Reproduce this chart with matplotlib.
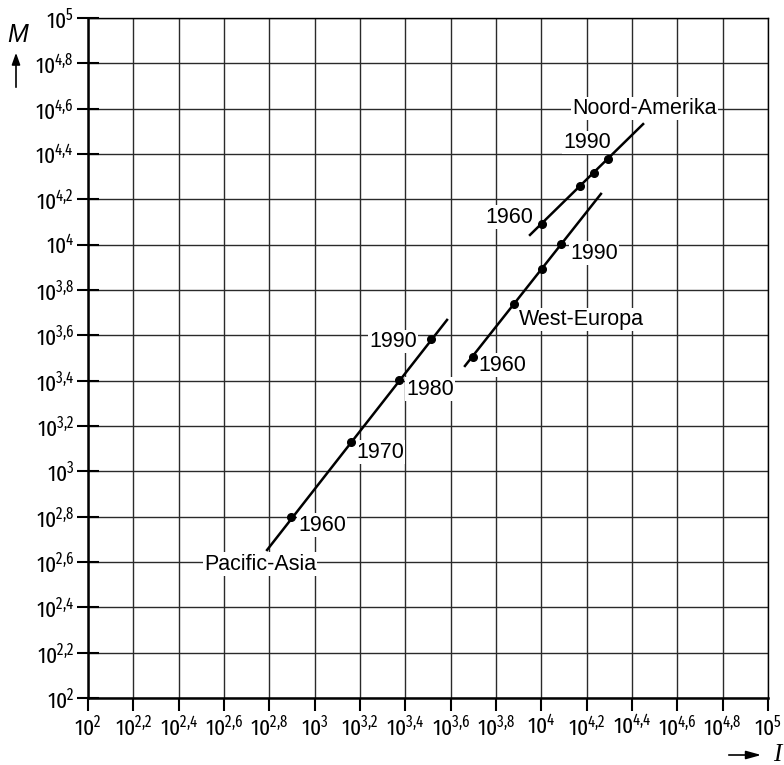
import matplotlib
matplotlib.use("Agg")
import matplotlib.pyplot as plt
import matplotlib.patches as mpatches

plt.rcParams['font.family'] = ['Liberation Sans', 'DejaVu Sans']
plt.rcParams['mathtext.fontset'] = 'custom'
plt.rcParams['mathtext.rm'] = 'Fira Sans Extra Condensed'
plt.rcParams['mathtext.it'] = 'Fira Sans Extra Condensed:italic'
plt.rcParams['mathtext.bf'] = 'Fira Sans Extra Condensed:bold'

# exponents (log10 of I and M)
pa_I = [2.896, 3.160, 3.372, 3.513]
pa_M = [2.799, 3.129, 3.403, 3.584]
pa_line_I = [2.790, 3.584]
pa_line_M = [2.653, 3.668]

we_I = [3.699, 3.879, 4.003, 4.087]
we_M = [3.504, 3.738, 3.893, 4.003]
we_line_I = [3.663, 4.263]
we_line_M = [3.465, 4.224]

na_I = [4.003, 4.171, 4.232, 4.294]
na_M = [4.091, 4.259, 4.316, 4.378]
na_line_I = [3.950, 4.449]
na_line_M = [4.043, 4.532]

tick_exp = [2.0, 2.2, 2.4, 2.6, 2.8, 3.0, 3.2, 3.4, 3.6, 3.8,
            4.0, 4.2, 4.4, 4.6, 4.8, 5.0]

# text labels: (text, I-exponent, M-exponent, ha)
labels = [
    ("1960", 2.926, 2.763, "left"),
    ("1970", 3.182, 3.085, "left"),
    ("1980", 3.403, 3.363, "left"),
    ("1990", 3.451, 3.571, "right"),
    ("Pacific-Asia", 2.512, 2.591, "left"),
    ("1960", 3.963, 4.122, "right"),
    ("1990", 4.096, 4.449, "left"),
    ("Noord-Amerika", 4.135, 4.599, "left"),
    ("1990", 4.126, 3.963, "left"),
    ("West-Europa", 3.901, 3.668, "left"),
    ("1960", 3.721, 3.469, "left"),
]


def tolin(v):
    return [10 ** e for e in v]


def ticklabel(e):
    if abs(e - round(e)) < 1e-9:
        return r'$10^{%d}$' % round(e)
    s = ('%.1f' % e).replace('.', '{,}')
    return r'$10^{%s}$' % s


fig = plt.figure(figsize=(7.84, 7.65), dpi=100)
ax = fig.add_axes([88 / 784, 1 - 698 / 765, 680 / 784, 680 / 765])
ax.set_xscale('log')
ax.set_yscale('log')
ax.set_xlim(1e2, 1e5)
ax.set_ylim(1e2, 1e5)

ticks = tolin(tick_exp)
ax.set_xticks(ticks)
ax.set_yticks(ticks)
ax.set_xticklabels([ticklabel(e) for e in tick_exp], fontsize=16.5)
ax.set_yticklabels([ticklabel(e) for e in tick_exp], fontsize=16.5)
ax.minorticks_off()
ax.tick_params(axis='x', direction='out', length=9, width=1.5, pad=3, top=False)
ax.tick_params(axis='y', direction='inout', length=16, width=1.5, pad=2, right=False)
ax.grid(True, color='#2a2a2a', linewidth=1.0)

for s in ['top', 'right']:
    ax.spines[s].set_linewidth(1.0)
for s in ['left', 'bottom']:
    ax.spines[s].set_linewidth(1.8)

for li, lm, pi, pm in [(pa_line_I, pa_line_M, pa_I, pa_M),
                       (we_line_I, we_line_M, we_I, we_M),
                       (na_line_I, na_line_M, na_I, na_M)]:
    ax.plot(tolin(li), tolin(lm), color='black', lw=1.8, zorder=4)
    ax.plot(tolin(pi), tolin(pm), 'o', color='black', ms=5.5, zorder=5)

for txt, xe, ye, ha in labels:
    ax.text(10 ** xe, 10 ** ye, txt, ha=ha, va='center', fontsize=15.5,
            zorder=3, bbox=dict(facecolor='white', edgecolor='none', pad=0.8))

# axis names with arrows
fig.text(18 / 784, 1 - 35 / 765, 'M', fontsize=18, style='italic',
         ha='center', va='center')
fig.add_artist(mpatches.FancyArrowPatch(
    (16 / 784, 1 - 90 / 765), (16 / 784, 1 - 50 / 765),
    transform=fig.transFigure, arrowstyle='-|>,head_length=7,head_width=2.5',
    color='black', lw=1.2, mutation_scale=1))
fig.text(777 / 784, 1 - 755 / 765, 'I', fontsize=18, style='italic',
         family='Liberation Serif', ha='center', va='center')
fig.add_artist(mpatches.FancyArrowPatch(
    (726 / 784, 1 - 755 / 765), (764 / 784, 1 - 755 / 765),
    transform=fig.transFigure, arrowstyle='-|>,head_length=9,head_width=2.5',
    color='black', lw=1.2, mutation_scale=1))

fig.savefig('out.png', dpi=100)
